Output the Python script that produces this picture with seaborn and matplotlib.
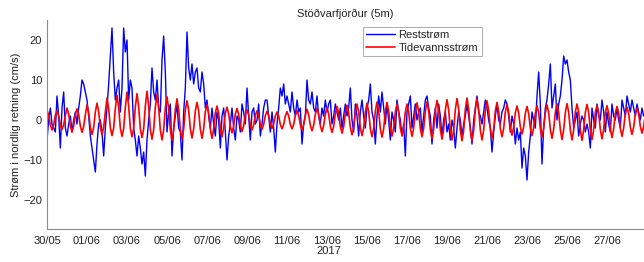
import numpy as np
import pandas as pd
import matplotlib
matplotlib.use("Agg")
import matplotlib.pyplot as plt
import matplotlib.dates as mdates
from matplotlib.lines import Line2D
import seaborn as sns

title = "Stöðvarfjörður (5m)"
ylabel = "Strøm i nordlig retning (cm/s)"
xlabel = "2017"
series_names = ["Reststrøm", "Tidevannsstrøm"]
start = "2017-05-30 00:00"
step_hours = 2

# Reststrøm (residual current), 2-hourly values, one row per day
rest = [
    -5, 0, 3, -1, -2, -3, 6, 1, -7, 3, 7, -2,
    -4, -1, 1, -3, 0, 2, -1, 3, 6, 10, 9, 7,
    5, 1, -4, -7, -10, -13, -6, -1, 0, -3, -9, -2,
    3, 9, 16, 23, 12, 5, 8, 10, 2, 8, 23, 17,
    20, 5, 10, 8, -2, -5, -9, -4, -7, -11, -8, -14,
    -5, 0, 4, 13, 7, 5, 10, 3, 2, 15, 21, 12,
    -3, 2, 4, -9, -2, 1, 4, -2, -3, -10, 2, 8,
    22, 13, 10, 14, 9, 12, 13, 8, 7, 12, 9, 3,
    5, 1, -2, 3, -1, -4, 2, 0, -7, 1, 3, -3,
    -10, -4, -1, 3, -2, -5, 1, 0, -3, 4, 2, -1,
    8, 1, -5, 2, 3, -1, 0, 4, -4, -1, 3, 5,
    5, 1, -3, 2, -2, -8, -1, 3, 8, 6, 9, 4,
    6, 4, 2, 7, 3, 1, 5, 2, 3, -6, -1, 1,
    10, 5, 4, 7, 3, 2, 6, 1, -1, 3, 1, 5,
    2, 4, 5, -1, 1, 4, 2, 0, 3, -2, 1, 4,
    1, 3, 8, 0, -3, 4, 1, -4, 2, 5, 1, -2,
    3, 5, 9, 2, 0, -6, 1, 6, 2, 7, 3, -1,
    4, 0, -5, 2, 0, -3, 5, 2, 0, -4, -1, -9,
    2, 4, 6, -2, 1, 4, 0, 2, 3, -3, 1, 5,
    6, 3, 1, -6, 0, 3, -2, 4, 1, -4, 0, 2,
    -3, -1, -5, 0, -2, -7, -2, 2, 0, -4, -1, 1,
    4, 1, -2, -6, 0, 3, 6, 2, 1, -1, 2, 5,
    3, 0, -2, -8, -3, 1, 4, 0, -1, 2, 3, 5,
    4, 1, -3, 1, -1, -6, -2, -5, -3, -12, -7, -9,
    -15, -8, -4, 2, 0, -2, 6, 12, 4, -11, -2, 3,
    5, 9, 14, 3, 6, 9, 0, 4, 6, 10, 16, 14,
    15, 12, 10, 3, -2, 0, 2, -4, -1, 1, 0, -3,
    -1, -3, -7, 3, 0, -2, 4, 1, 0, 5, 2, -3,
    2, -1, -3, 4, 1, 0, 3, 0, -2, 5, 3, 1,
    6, 4, 2, 5, 3, 1, 4, 2, 0, 3, 1, 2,
]

# Tidevannsstrøm (tidal current), 2-hourly values, one row per day
tide = [
    2.5, 1.2, -1.2, -2.5, -1.3, 1.2, 2.3, 1.1, -1.2, -2.4, -1.2, 1.1,
    3.0, 1.5, -1.4, -3.0, -1.5, 1.4, 2.8, 1.4, -1.5, -3.1, -1.6, 1.3,
    3.8, 1.9, -1.8, -3.6, -1.9, 2.0, 4.2, 2.1, -1.8, -3.7, -1.8, 2.0,
    5.5, 2.8, -1.9, -3.9, -2.0, 2.9, 6.2, 3.1, -2.0, -4.1, -2.1, 3.2,
    7.0, 3.4, -2.0, -4.2, -2.1, 3.3, 6.6, 3.3, -2.2, -4.4, -2.2, 3.5,
    7.2, 3.5, -2.4, -4.8, -2.4, 3.2, 6.4, 3.1, -2.5, -5.0, -2.4, 3.0,
    5.8, 2.8, -2.5, -5.0, -2.5, 2.7, 5.3, 2.6, -2.4, -4.8, -2.3, 2.5,
    4.8, 2.4, -2.2, -4.5, -2.2, 2.3, 4.4, 2.2, -2.3, -4.6, -2.2, 2.1,
    3.8, 1.8, -2.3, -4.6, -2.2, 1.8, 3.5, 1.7, -2.1, -4.2, -2.0, 1.7,
    3.2, 1.6, -1.6, -3.2, -1.5, 1.5, 2.9, 1.4, -1.4, -2.9, -1.4, 1.4,
    2.6, 1.3, -1.2, -2.5, -1.2, 1.2, 2.3, 1.1, -1.1, -2.3, -1.1, 1.1,
    2.2, 1.1, -1.0, -2.1, -1.0, 1.0, 2.0, 1.0, -1.1, -2.2, -1.1, 1.0,
    2.1, 1.0, -1.1, -2.2, -1.1, 1.1, 2.4, 1.2, -1.2, -2.5, -1.2, 1.2,
    2.7, 1.3, -1.3, -2.7, -1.3, 1.4, 2.9, 1.4, -1.4, -2.9, -1.4, 1.5,
    3.1, 1.5, -1.5, -3.1, -1.6, 1.6, 3.4, 1.7, -1.6, -3.3, -1.7, 1.7,
    3.7, 1.8, -1.8, -3.7, -1.9, 1.9, 4.0, 2.0, -1.9, -3.9, -2.0, 2.0,
    4.2, 2.1, -2.1, -4.2, -2.1, 2.2, 4.5, 2.2, -2.2, -4.3, -2.2, 2.2,
    4.4, 2.2, -2.0, -4.0, -2.0, 2.0, 4.0, 2.0, -2.0, -3.9, -1.9, 2.0,
    4.0, 2.0, -2.0, -4.1, -2.0, 2.1, 4.3, 2.1, -2.1, -4.2, -2.1, 2.2,
    4.6, 2.3, -2.3, -4.6, -2.3, 2.4, 4.9, 2.4, -2.4, -4.8, -2.4, 2.5,
    5.1, 2.5, -2.5, -5.0, -2.5, 2.6, 5.4, 2.7, -2.6, -5.2, -2.6, 2.7,
    5.5, 2.7, -2.6, -5.2, -2.6, 2.6, 5.3, 2.6, -2.5, -5.0, -2.5, 2.5,
    4.8, 2.4, -2.3, -4.6, -2.3, 2.3, 4.4, 2.2, -2.1, -4.2, -2.1, 2.0,
    3.9, 1.9, -1.9, -3.8, -1.8, 1.8, 3.5, 1.7, -1.7, -3.5, -1.7, 1.7,
    3.4, 1.6, -2.0, -3.9, -2.0, 1.7, 3.6, 1.8, -2.1, -4.2, -2.1, 1.8,
    3.8, 1.8, -2.3, -4.6, -2.3, 1.9, 4.0, 1.9, -2.4, -4.9, -2.4, 1.9,
    4.1, 2.0, -2.5, -5.0, -2.5, 2.0, 4.0, 2.0, -2.5, -5.1, -2.5, 1.9,
    3.9, 1.9, -2.5, -4.9, -2.4, 1.9, 3.7, 1.8, -2.4, -4.7, -2.3, 1.8,
    3.6, 1.7, -2.2, -4.4, -2.2, 1.7, 3.4, 1.7, -2.1, -4.1, -2.0, 1.6,
    3.2, 1.6, -1.8, -3.6, -1.8, 1.5, 3.0, 1.5, -1.6, -3.3, -1.6, 1.5,
]

yticks = [-20, -10, 0, 10, 20]

times = pd.date_range(start, periods=len(rest), freq=f"{step_hours}h")
df = pd.DataFrame({"time": times, series_names[0]: rest, series_names[1]: tide})
long = df.melt(id_vars="time", var_name="serie", value_name="v")

sns.set_style("white")
plt.rcParams["font.family"] = ["Liberation Sans", "DejaVu Sans"]

fig = plt.figure(figsize=(6.44, 2.62), dpi=100)
ax = fig.add_axes([47 / 644, 1 - 229 / 262, 1 - 47 / 644, (229 - 20) / 262])

sns.lineplot(data=long, x="time", y="v", hue="serie",
             palette={series_names[0]: "#0000ff", series_names[1]: "#ff0000"},
             ax=ax, legend=False, estimator=None)
for line, lw in zip(ax.lines, [1.0, 1.2]):
    line.set_linewidth(lw)

t0 = pd.Timestamp(start)
ax.set_xlim(t0, t0 + pd.Timedelta(days=29.85))
ax.set_ylim(-27.25, 25)
ax.set_yticks(yticks)
ax.xaxis.set_major_locator(mdates.DayLocator(interval=2))
ax.xaxis.set_major_formatter(mdates.DateFormatter("%d/%m"))
ax.xaxis.set_minor_locator(mdates.DayLocator())

for s in ["top", "right"]:
    ax.spines[s].set_visible(False)
for s in ["left", "bottom"]:
    ax.spines[s].set_color("#8c8c8c")
    ax.spines[s].set_linewidth(0.8)
ax.tick_params(axis="both", which="both", direction="in", length=3,
               color="#8c8c8c", labelsize=8, labelcolor="#222222", width=0.7)
ax.tick_params(axis="x", pad=5)

ax.set_xlabel(xlabel, fontsize=8, color="#222222")
ax.xaxis.set_label_coords((329 - 47) / (644 - 47), -0.08)
ax.set_ylabel(ylabel, fontsize=8, color="#222222")
ax.yaxis.set_label_coords(-0.043, 0.5)
ax.set_title(title, fontsize=8, color="#222222", pad=2)

handles = [Line2D([], [], color="#0000ff", lw=1.0), Line2D([], [], color="#ff0000", lw=1.2)]
leg = fig.legend(handles, series_names, loc="upper left",
                 bbox_to_anchor=(363 / 644, 1 - 27 / 262), fontsize=8,
                 frameon=True, fancybox=False, handlelength=2.6, handletextpad=0.3,
                 borderpad=0.3, labelspacing=0.2, borderaxespad=0)
leg.get_frame().set_edgecolor("#999999")
leg.get_frame().set_linewidth(0.7)

fig.savefig("out.png", dpi=100)
